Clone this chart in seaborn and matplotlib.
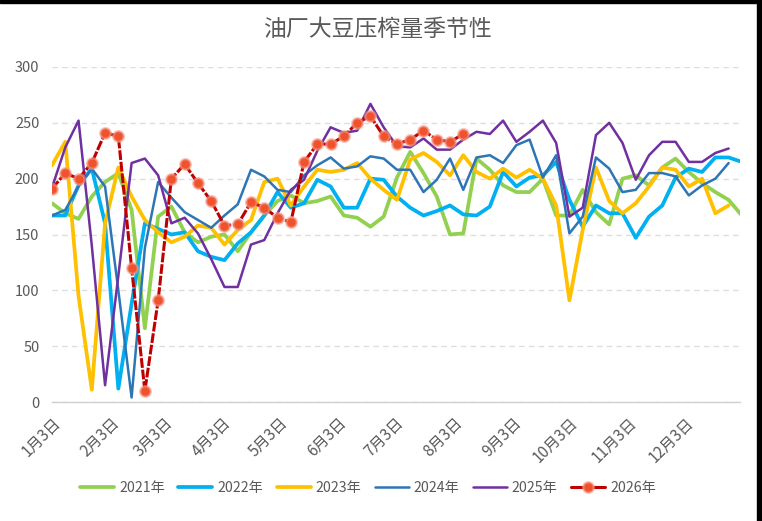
import numpy as np
import pandas as pd
import matplotlib
matplotlib.use("Agg")
import matplotlib.pyplot as plt
import seaborn as sns
from matplotlib.lines import Line2D
from matplotlib.patches import Rectangle

sns.set_theme(style="white")
plt.rcParams['font.family'] = ['Noto Sans CJK SC', 'DejaVu Sans']

title = "油厂大豆压榨量季节性"
series_names = ["2021年", "2022年", "2023年", "2024年", "2025年", "2026年"]
tick_labels = ["1月3日", "2月3日", "3月3日", "4月3日", "5月3日", "6月3日",
               "7月3日", "8月3日", "9月3日", "10月3日", "11月3日", "12月3日"]
tick_months = [1, 2, 3, 4, 5, 6, 7, 8, 9, 10, 11, 12]
y_ticks = [0, 50, 100, 150, 200, 250, 300]

y2021 = [178, 169, 164, 184, 197, 205, 172, 66, 166, 175,
         152, 143, 148, 150, 135, 152, 167, 180, 185, 178,
         180, 184, 167, 165, 157, 166, 201, 224, 205, 184,
         150, 151, 218, 208, 194, 188, 188, 200, 167, 167,
         190, 170, 159, 200, 203, 194, 210, 218, 206, 196,
         188, 181, 167]
y2022 = [167, 167, 194, 209, 160, 12, 88, 160, 155, 150,
         152, 135, 130, 127, 142, 152, 167, 188, 174, 178,
         199, 193, 174, 174, 200, 199, 184, 174, 167, 171,
         176, 168, 167, 175, 206, 193, 201, 203, 215, 181,
         157, 176, 169, 169, 147, 166, 176, 201, 209, 206,
         219, 219, 215]
y2023 = [212, 233, 95, 11, 160, 210, 184, 163, 152, 143,
         148, 158, 156, 141, 154, 163, 197, 200, 176, 193,
         208, 206, 208, 214, 200, 190, 181, 217, 223, 215,
         203, 221, 206, 200, 209, 201, 208, 200, 176, 91,
         154, 210, 180, 169, 178, 193, 210, 208, 193, 200,
         169, 176]
y2024 = [167, 172, 193, 209, 193, 100, 4, 138, 197, 183,
         170, 163, 156, 167, 177, 208, 202, 190, 188, 203,
         212, 219, 209, 211, 220, 218, 208, 208, 188, 199,
         218, 190, 219, 221, 214, 230, 235, 201, 221, 151,
         166, 219, 209, 188, 190, 205, 205, 202, 185, 194,
         200, 214]
y2025 = [192, 228, 252, 140, 15, 113, 214, 218, 203, 160,
         165, 151, 128, 103, 103, 141, 145, 169, 190, 199,
         225, 246, 241, 243, 267, 246, 229, 228, 236, 226,
         226, 235, 242, 240, 252, 233, 242, 252, 232, 166,
         174, 239, 250, 232, 199, 221, 233, 233, 215, 215,
         223, 227]
y2026 = [191, 205, 200, 214, 241, 238, 120, 10, 91, 200,
         213, 196, 180, 158, 159, 179, 174, 165, 161, 215,
         231, 231, 238, 250, 256, 238, 231, 235, 243, 235,
         233, 240]

colors = ["#92D050", "#00B0F0", "#FFC000", "#2E75B6", "#7030A0", "#C00000"]
widths = [2.7, 2.7, 2.7, 1.8, 1.8, 2.2]
marker_fill = "#F0522C"
marker_halo = (0.96, 0.62, 0.56, 0.55)
text_grey = "#595959"

base = pd.Timestamp("2026-01-03")


def week_dates(n):
    return pd.date_range(base, periods=n, freq="7D")


W, H = 762, 521
fig = plt.figure(figsize=(W / 100, H / 100), dpi=100)
ax = fig.add_axes([52 / W, 1 - 402 / H, (740 - 52) / W, (402 - 67) / H])

all_series = [y2021, y2022, y2023, y2024, y2025]
for vals, c, lw in zip(all_series, colors[:5], widths[:5]):
    sns.lineplot(x=week_dates(len(vals)), y=vals, ax=ax, color=c,
                 linewidth=lw, legend=False, zorder=3)

sns.lineplot(x=week_dates(len(y2026)), y=y2026, ax=ax, color=colors[5],
             linewidth=widths[5], legend=False, zorder=4,
             marker="o", markersize=7.6, markerfacecolor=marker_fill,
             markeredgecolor=marker_halo, markeredgewidth=1.8)
ax.lines[-1].set_dashes((3.2, 0.6))

ax.set_ylim(0, 300)
ax.set_xlim(base, base + pd.Timedelta(days=363))
ax.set_yticks(y_ticks)
ax.set_yticklabels([str(v) for v in y_ticks], fontsize=10.5, color=text_grey)
ticks = [pd.Timestamp(2026, m, 3) for m in tick_months]
ax.set_xticks(ticks)
ax.set_xticklabels(tick_labels, rotation=45, ha="right", va="top",
                   rotation_mode="anchor", fontsize=11, color=text_grey)
ax.set_xlabel("")
ax.set_ylabel("")

ax.grid(axis="y", color="#DDDDDD", linestyle=(0, (4, 3)), linewidth=1)
ax.grid(axis="x", visible=False)
ax.set_axisbelow(True)
for s in ["left", "right", "top"]:
    ax.spines[s].set_visible(False)
ax.spines["bottom"].set_color("#D0D0D0")
ax.spines["bottom"].set_linewidth(1)
ax.tick_params(axis="x", direction="out", length=5, width=1, color="#D0D0D0", pad=4)
ax.tick_params(axis="y", length=0, pad=9)

fig.text(377 / W, 1 - 30 / H, title, ha="center", va="center",
         fontsize=16.5, color=text_grey)

handles = []
for i, (name, c, lw) in enumerate(zip(series_names, colors, widths)):
    if i == 5:
        handles.append(Line2D([], [], color=c, linewidth=lw, marker="o",
                              markersize=7.6, markerfacecolor=marker_fill,
                              markeredgecolor=marker_halo, markeredgewidth=1.8))
    else:
        handles.append(Line2D([], [], color=c, linewidth=lw))
leg = ax.legend(handles, series_names, loc="center",
                bbox_to_anchor=(368 / W, 1 - 488 / H), bbox_transform=fig.transFigure,
                ncol=6, frameon=False, handlelength=2.4, handletextpad=0.35,
                columnspacing=0.95, fontsize=10.2)
for t in leg.get_texts():
    t.set_color(text_grey)

# screenshot frame edges
fig.patches.append(Rectangle((0, 1 - 3 / H), 1, 3 / H, transform=fig.transFigure,
                             color="black", zorder=10))
fig.patches.append(Rectangle((757 / W, 0), 5 / W, 1, transform=fig.transFigure,
                             color="black", zorder=10))

fig.savefig("out.png", dpi=100)
